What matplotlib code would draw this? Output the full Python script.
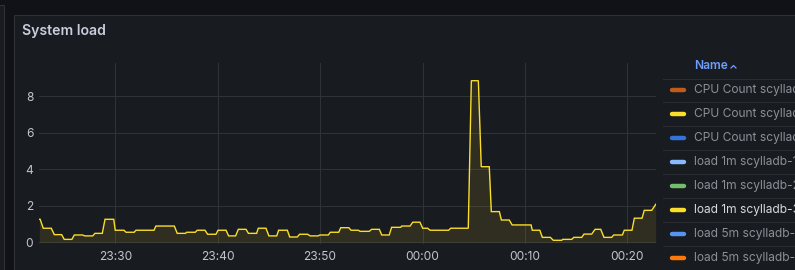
import matplotlib
matplotlib.use("Agg")
import matplotlib.pyplot as plt
import matplotlib.dates as mdates
from matplotlib.patches import Rectangle
from matplotlib.lines import Line2D
from datetime import datetime, timedelta

# ---------------- data ----------------
title = "System load"
times = [
    "23:22:35", "23:22:40", "23:22:58", "23:23:45", "23:24:03", "23:24:46", "23:25:01", "23:25:46",
    "23:26:00", "23:26:49", "23:27:01", "23:27:48", "23:28:01", "23:28:44", "23:29:00", "23:29:51",
    "23:30:00", "23:30:51", "23:31:03", "23:31:51", "23:32:01", "23:33:47", "23:33:58", "23:35:46",
    "23:36:03", "23:36:52", "23:36:58", "23:37:49", "23:38:00", "23:38:46", "23:39:01", "23:39:50",
    "23:40:02", "23:40:49", "23:41:04", "23:41:45", "23:42:01", "23:42:46", "23:43:00", "23:43:48",
    "23:43:58", "23:44:43", "23:45:00", "23:45:46", "23:45:57", "23:46:48", "23:47:02", "23:47:46",
    "23:48:00", "23:48:47", "23:49:02", "23:49:49", "23:49:58", "23:50:48", "23:51:00", "23:51:49",
    "23:52:01", "23:52:48", "23:53:01", "23:53:44", "23:53:54", "23:54:48", "23:55:02", "23:55:47",
    "23:56:01", "23:56:45", "23:56:59", "23:57:52", "23:57:58", "23:58:47", "23:59:03", "23:59:45",
    "00:00:01", "00:00:30", "00:00:44", "00:02:33", "00:02:45", "00:04:28", "00:04:46", "00:05:27",
    "00:05:44", "00:06:31", "00:06:43", "00:07:30", "00:07:42", "00:08:28", "00:08:45", "00:10:36",
    "00:10:43", "00:11:27", "00:11:42", "00:12:29", "00:12:46", "00:13:36", "00:13:41", "00:14:34",
    "00:14:46", "00:15:33", "00:15:46", "00:16:31", "00:16:51", "00:17:24", "00:17:43", "00:18:28",
    "00:18:40", "00:19:31", "00:19:42", "00:20:27", "00:20:41", "00:21:26", "00:21:39", "00:22:23",
    "00:22:46",
]
load_1m = [
    1.26, 1.26, 0.77, 0.77, 0.42, 0.42, 0.16, 0.16,
    0.40, 0.40, 0.35, 0.35, 0.49, 0.49, 1.26, 1.26,
    0.66, 0.66, 0.55, 0.55, 0.66, 0.66, 0.89, 0.89,
    0.49, 0.49, 0.55, 0.55, 0.66, 0.66, 0.44, 0.44,
    0.66, 0.66, 0.35, 0.35, 0.71, 0.71, 0.49, 0.49,
    0.77, 0.77, 0.35, 0.35, 0.66, 0.66, 0.29, 0.29,
    0.44, 0.44, 0.35, 0.35, 0.40, 0.40, 0.55, 0.55,
    0.80, 0.80, 0.66, 0.66, 0.60, 0.60, 0.71, 0.71,
    0.40, 0.40, 0.82, 0.82, 0.89, 0.89, 1.10, 1.10,
    0.77, 0.77, 0.66, 0.66, 0.77, 0.77, 8.85, 8.85,
    4.14, 4.14, 1.68, 1.68, 1.22, 1.22, 0.95, 0.95,
    0.66, 0.66, 0.27, 0.27, 0.11, 0.11, 0.16, 0.16,
    0.27, 0.27, 0.45, 0.45, 0.71, 0.71, 0.27, 0.27,
    0.40, 0.40, 0.66, 0.66, 1.32, 1.32, 1.75, 1.75,
    2.08,
]
y_ticks = [0, 2, 4, 6, 8]
legend_names = [
    "CPU Count scylladb-1",
    "CPU Count scylladb-2",
    "CPU Count scylladb-3",
    "load 1m scylladb-1",
    "load 1m scylladb-2",
    "load 1m scylladb-3",
    "load 5m scylladb-1",
    "load 5m scylladb-2",
]
legend_colors = ["#C15C17", "#FADE2A", "#3274D9", "#8AB8FF", "#73BF69", "#FADE2A", "#5794F2", "#FF780A"]
highlight_index = 5

# ---------------- helpers ----------------
W, H = 795, 270
plt.rcParams['font.family'] = ['Inter', 'DejaVu Sans']
fig = plt.figure(figsize=(W / 100, H / 100), dpi=100)
fig.patch.set_facecolor("#111217")

def fx(x):
    return x / W

def fy(y):
    return 1 - y / H

# panels (behind axes)
fig.patches.append(Rectangle((fx(-20), fy(275)), fx(24), 1, transform=fig.transFigure,
                             facecolor="#181b1f", edgecolor="#2d3035", lw=0.8, zorder=-10))
fig.patches.append(Rectangle((fx(13.5), fy(275)), fx(800), fy(14.5) - fy(275), transform=fig.transFigure,
                             facecolor="#181b1f", edgecolor="#2d3035", lw=0.8, zorder=-10))

fig.text(fx(22), fy(31), title, color="#ccccdc", fontsize=10.1, fontweight="semibold",
         ha="left", va="center")

# ---------------- axes ----------------
base = datetime(2024, 1, 1)

def to_dt(s):
    h, m, sec = map(int, s.split(":"))
    d = base + timedelta(hours=h, minutes=m, seconds=sec)
    if h < 12:
        d += timedelta(days=1)
    return d

t = [to_dt(s) for s in times]

x0, x1 = 39.3, 655.7
ytop, ybot = 63, 243.5
ax = fig.add_axes([fx(x0), fy(ybot), fx(x1) - fx(x0), fy(ytop) - fy(ybot)])
ax.set_zorder(1)
ax.set_facecolor("none")
ax.plot(t, load_1m, color="#FADE2A", lw=1.0, solid_joinstyle="miter", zorder=3)
ax.fill_between(t, load_1m, 0, color="#FADE2A", alpha=0.1, lw=0, zorder=2)

ax.set_xlim(t[0], t[-1])
ax.set_ylim(-0.066, 9.82)
ax.set_yticks(y_ticks)
ax.xaxis.set_major_locator(mdates.MinuteLocator(byminute=[0, 10, 20, 30, 40, 50]))
ax.xaxis.set_major_formatter(mdates.DateFormatter("%H:%M"))
for s in ax.spines.values():
    s.set_visible(False)
ax.tick_params(axis="both", length=0, colors="#c4c4d0", labelsize=8.64)
ax.tick_params(axis="y", pad=4.3)
ax.tick_params(axis="x", pad=5.5)
ax.grid(True, color="#2f3237", lw=0.75)
ax.set_axisbelow(True)

# ---------------- legend table ----------------
lx0 = 663
sep_color = "#2a2d32"
fig.text(fx(694), fy(66.5), "Name", color="#6E9FFF", fontsize=8.64, fontweight="semibold",
         ha="left", va="center")
# small caret after header
fig.lines.append(Line2D([fx(731), fx(733.5), fx(736)], [fy(68), fy(65.5), fy(68)],
                        transform=fig.transFigure, color="#6E9FFF", lw=0.9))
fig.lines.append(Line2D([fx(lx0), fx(800)], [fy(78.7), fy(78.7)], transform=fig.transFigure,
                        color=sep_color, lw=0.8))
row_h = 24
for i, (name, col) in enumerate(zip(legend_names, legend_colors)):
    yc = 90 + i * row_h
    fig.lines.append(Line2D([fx(672), fx(684)], [fy(yc), fy(yc)], transform=fig.transFigure,
                            color=col, lw=3.2, solid_capstyle="round"))
    tc = "#d8d9e3" if i == highlight_index else "#8e8e99"
    fig.text(fx(694), fy(yc), name, color=tc, fontsize=8.64, ha="left", va="center")
    fig.lines.append(Line2D([fx(lx0), fx(800)], [fy(yc + 12), fy(yc + 12)], transform=fig.transFigure,
                            color=sep_color, lw=0.8))

fig.savefig("out.png", dpi=100, facecolor=fig.get_facecolor())
